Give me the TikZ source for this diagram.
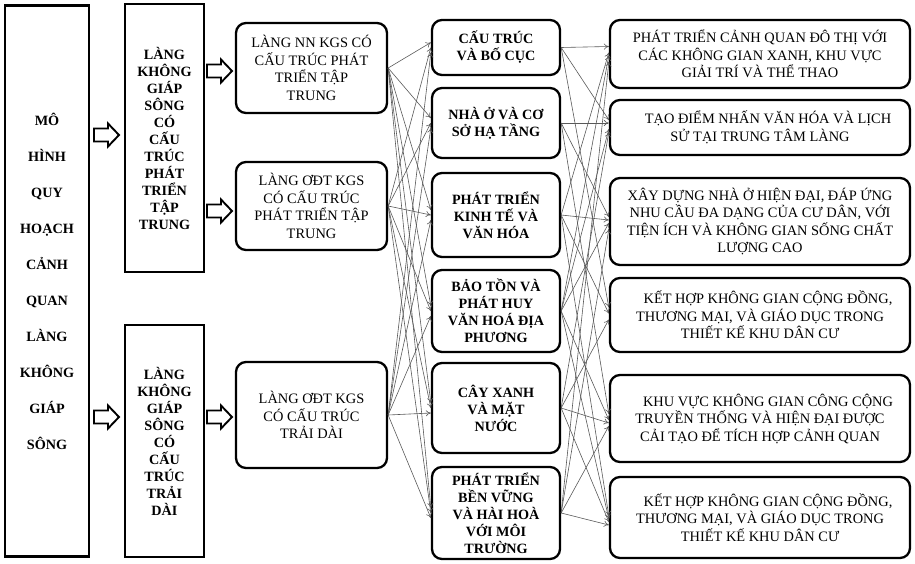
\documentclass[tikz,border=0pt]{standalone}
\usepackage{fontspec}
\setmainfont{Liberation Serif}
\usetikzlibrary{arrows.meta}
\begin{document}
\begin{tikzpicture}[x=1pt,y=-1pt,
  tallbox/.style={draw, line width=2.3pt, align=center, inner sep=0pt,
    font=\fontsize{14.2}{17}\selectfont\bfseries},
  roundbox/.style={draw, line width=2.3pt, rounded corners=10pt, align=center, inner sep=0pt},
  plainbox/.style={roundbox, font=\fontsize{14.4}{17.5}\selectfont},
  boldbox/.style={roundbox, font=\fontsize{14.2}{17}\selectfont\bfseries},
  link/.style={draw=black!65, line width=0.6pt, -{To[length=5pt,width=6pt]}},
  hollowarrow/.pic={\draw[line width=1.9pt, fill=white, line join=miter]
    (0,-6.5) -- (14,-6.5) -- (14,-11.5) -- (25,0) -- (14,11.5) -- (14,6.5) -- (0,6.5) -- cycle;}]
\useasboundingbox (0,0) rectangle (915,563);

% first column: the planning model
\node[tallbox, minimum width=84pt, minimum height=551pt,
  font=\fontsize{14.2}{36}\selectfont\bfseries] (model) at (47,281)
  {MÔ\\HÌNH\\QUY\\HOẠCH\\CẢNH\\QUAN\\LÀNG\\KHÔNG\\GIÁP\\SÔNG};

% second column: the two village structures
\node[tallbox, minimum width=79pt, minimum height=268pt] (grpA) at (164.5,138)
  {LÀNG\\KHÔNG\\GIÁP\\SÔNG\\CÓ\\CẤU\\TRÚC\\PHÁT\\TRIỂN\\TẬP\\TRUNG};
\node[tallbox, minimum width=79pt, minimum height=232pt] (grpB) at (164.5,441)
  {LÀNG\\KHÔNG\\GIÁP\\SÔNG\\CÓ\\CẤU\\TRÚC\\TRẢI\\DÀI};

% third column: village types
\node[plainbox, minimum width=151pt, minimum height=90pt] (L1) at (311.5,68)
  {LÀNG NN KGS CÓ\\CẤU TRÚC PHÁT\\TRIỂN TẬP\\TRUNG};
\node[plainbox, minimum width=151pt, minimum height=88pt] (L2) at (311.5,206)
  {LÀNG ƠĐT KGS\\CÓ CẤU TRÚC\\PHÁT TRIỂN TẬP\\TRUNG};
\node[plainbox, minimum width=151pt, minimum height=106pt] (L3) at (311.5,415)
  {LÀNG ƠĐT KGS\\CÓ CẤU TRÚC\\TRẢI DÀI};

% fourth column: planning aspects
\node[boldbox, minimum width=128pt, minimum height=55pt] (M1) at (496,47.5)
  {CẤU TRÚC\\VÀ BỐ CỤC};
\node[boldbox, minimum width=128pt, minimum height=70pt] (M2) at (496,123)
  {NHÀ Ở VÀ CƠ\\SỞ HẠ TẦNG};
\node[boldbox, minimum width=128pt, minimum height=84pt] (M3) at (496,215)
  {PHÁT TRIỂN\\KINH TẾ VÀ\\VĂN HÓA};
\node[boldbox, minimum width=128pt, minimum height=82pt] (M4) at (496,311)
  {BẢO TỒN VÀ\\PHÁT HUY\\VĂN HOÁ ĐỊA\\PHƯƠNG};
\node[boldbox, minimum width=128pt, minimum height=90pt] (M5) at (496,408)
  {CÂY XANH\\VÀ MẶT\\NƯỚC};
\node[boldbox, minimum width=128pt, minimum height=92pt] (M6) at (496,513)
  {PHÁT TRIỂN\\BỀN VỮNG\\VÀ HÀI HOÀ\\VỚI MÔI\\TRƯỜNG};

% fifth column: outcomes
\node[plainbox, minimum width=300pt, minimum height=68pt] (R1) at (760,54)
  {PHÁT TRIỂN CẢNH QUAN ĐÔ THỊ VỚI\\CÁC KHÔNG GIAN XANH, KHU VỰC\\GIẢI TRÍ VÀ THỂ THAO};
\node[plainbox, minimum width=300pt, minimum height=55pt] (R2) at (760,127.5)
  {\hspace*{16pt}TẠO ĐIỂM NHẤN VĂN HÓA VÀ LỊCH\\SỬ TẠI TRUNG TÂM LÀNG};
\node[plainbox, minimum width=300pt, minimum height=87pt] (R3) at (760,221.5)
  {XÂY DỰNG NHÀ Ở HIỆN ĐẠI, ĐÁP ỨNG\\NHU CẦU ĐA DẠNG CỦA CƯ DÂN, VỚI\\TIỆN ÍCH VÀ KHÔNG GIAN SỐNG CHẤT\\LƯỢNG CAO};
\node[plainbox, minimum width=300pt, minimum height=74pt] (R4) at (760,315)
  {\hspace*{16pt}KẾT HỢP KHÔNG GIAN CỘNG ĐỒNG,\\THƯƠNG MẠI, VÀ GIÁO DỤC TRONG\\THIẾT KẾ KHU DÂN CƯ};
\node[plainbox, minimum width=300pt, minimum height=87pt] (R5) at (760,418.5)
  {\hspace*{16pt}KHU VỰC KHÔNG GIAN CÔNG CỘNG\\TRUYỀN THỐNG VÀ HIỆN ĐẠI ĐƯỢC\\CẢI TẠO ĐỂ TÍCH HỢP CẢNH QUAN};
\node[plainbox, minimum width=300pt, minimum height=81pt] (R6) at (760,517.5)
  {\hspace*{16pt}KẾT HỢP KHÔNG GIAN CỘNG ĐỒNG,\\THƯƠNG MẠI, VÀ GIÁO DỤC TRONG\\THIẾT KẾ KHU DÂN CƯ};

% hollow block arrows between the first columns
\pic at (94,135) {hollowarrow};
\pic at (94,417) {hollowarrow};
\pic at (207,71) {hollowarrow};
\pic at (207,211) {hollowarrow};
\pic at (207,417) {hollowarrow};

% every village type feeds every planning aspect
\foreach \s/\ds in {1/5, 2/0, 3/-5}
  \foreach \j in {1,...,6}
    \draw[link] (L\s.east) -- ([yshift=\ds pt]M\j.west);

% planning aspects lead to outcomes
\foreach \s/\t in {1/1,1/2,1/4, 2/2,2/3,2/5, 3/1,3/3,3/4,3/6,
                   4/1,4/2,4/3,4/5,4/6, 5/2,5/4,5/5,5/6, 6/1,6/3,6/5,6/6}{
  \pgfmathsetmacro{\dy}{(3.5-\s)*3}
  \draw[link] (M\s.east) -- ([yshift=\dy pt]R\t.west);
}
\end{tikzpicture}
\end{document}
